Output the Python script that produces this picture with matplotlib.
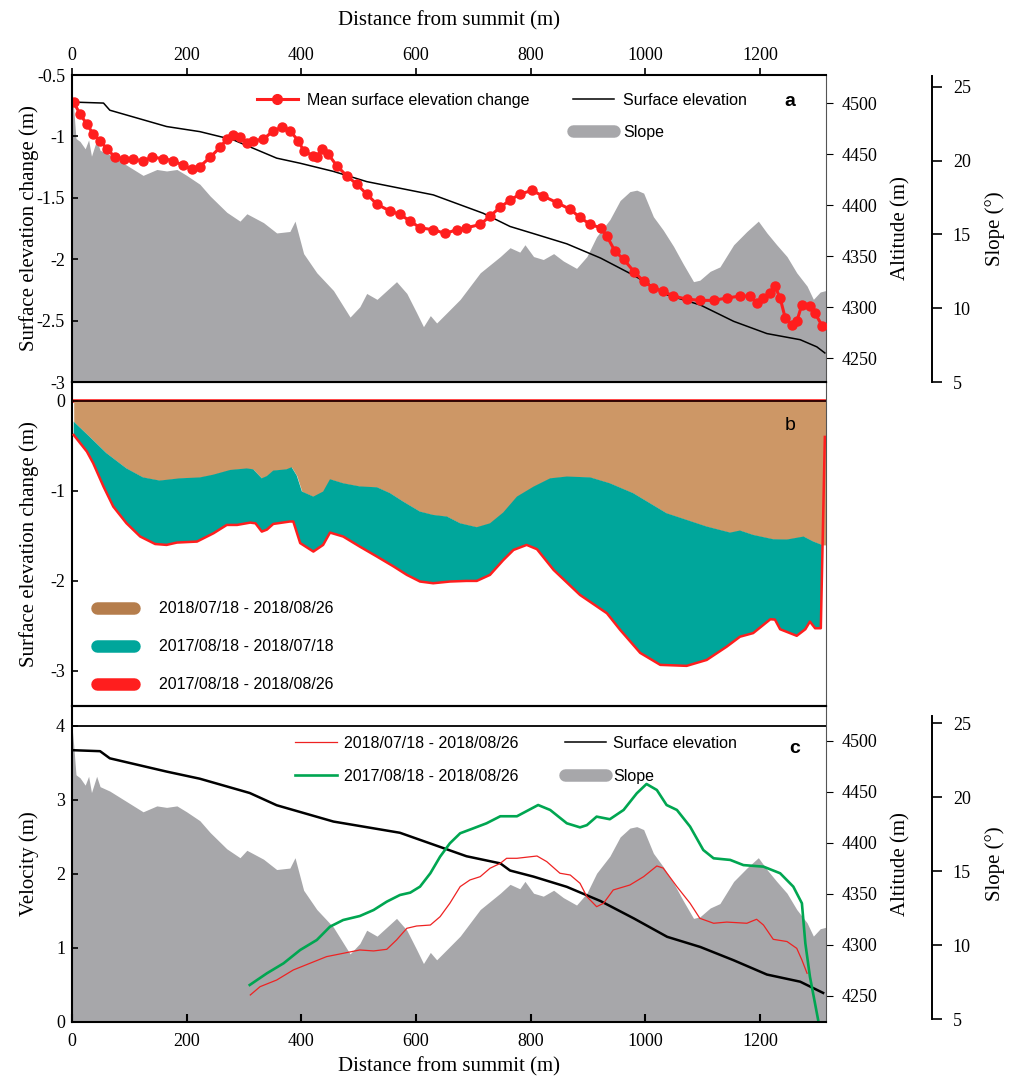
import matplotlib
matplotlib.use('Agg')
import matplotlib.pyplot as plt
from matplotlib.lines import Line2D

plt.rcParams['font.family'] = ['Liberation Serif', 'DejaVu Serif']
plt.rcParams['axes.unicode_minus'] = False
plt.rcParams['font.size'] = 13

# slope along the profile (deg)
slope_d = [0, 3, 7, 14, 23, 29, 34, 43, 49, 66, 95, 124, 148, 165, 183, 200, 223, 241, 270, 293,
           305, 334, 357, 380, 389, 404, 427, 456, 485, 502, 514, 532, 549, 566, 584, 601, 613, 625,
           636, 654, 677, 712, 747, 764, 781, 790, 805, 822, 840, 857, 880, 898, 915, 938, 956, 973,
           985, 997, 1014, 1031, 1049, 1066, 1084, 1095, 1113, 1130, 1154, 1177, 1197, 1212, 1229,
           1247, 1264, 1282, 1293, 1305, 1315]
slope_v = [24.8, 23.5, 21.5, 21.3, 20.8, 21.4, 20.3, 21.4, 20.7, 20.4, 19.7, 19.0, 19.4, 19.3, 19.4,
           19.0, 18.4, 17.6, 16.5, 15.9, 16.4, 15.8, 15.1, 15.2, 15.9, 13.7, 12.4, 11.2, 9.4, 10.1,
           11.0, 10.6, 11.2, 11.8, 11.0, 9.7, 8.75, 9.5, 9.0, 9.7, 10.6, 12.4, 13.5, 14.1, 13.8, 14.3,
           13.5, 13.3, 13.7, 13.2, 12.7, 13.5, 14.85, 16.0, 17.3, 17.9, 18.0, 17.8, 16.2, 15.3, 14.2,
           13.0, 11.8, 11.9, 12.5, 12.8, 14.3, 15.2, 15.9, 15.1, 14.3, 13.5, 12.4, 11.5, 10.6, 11.1,
           11.2]

# surface elevation profiles (m a.s.l.)
elev_a_d = [0, 55, 66, 165, 223, 281, 357, 398, 456, 514, 630, 717, 764, 805, 863, 922, 980, 1038,
            1096, 1154, 1212, 1270, 1299, 1313]
elev_a_v = [4501, 4500, 4493, 4477, 4472, 4464, 4446, 4441, 4433, 4423, 4410, 4392, 4379, 4372, 4362,
            4348, 4331, 4312, 4302, 4286, 4274, 4268, 4261, 4255]
elev_c_d = [0, 49, 66, 165, 223, 310, 357, 456, 572, 688, 747, 764, 805, 863, 922, 980, 1038, 1096,
            1154, 1212, 1270, 1310]
elev_c_v = [4491, 4490, 4483, 4470, 4463, 4449, 4437, 4421, 4410, 4387, 4380, 4373, 4367, 4357, 4343,
            4326, 4308, 4298, 4285, 4271, 4264, 4253]

# mean surface elevation change (m)
mean_d = [3, 14, 26, 37, 49, 61, 75, 90, 107, 124, 139, 159, 177, 194, 209, 223, 241, 258, 270, 281,
          293, 305, 316, 334, 351, 366, 380, 395, 404, 421, 427, 436, 447, 462, 479, 497, 514, 532,
          555, 572, 590, 607, 630, 651, 671, 688, 712, 729, 747, 764, 781, 802, 822, 846, 869, 886,
          904, 922, 933, 947, 962, 980, 997, 1014, 1031, 1049, 1072, 1095, 1119, 1142, 1165, 1183,
          1194, 1206, 1218, 1226, 1235, 1244, 1255, 1264, 1273, 1287, 1296, 1308]
mean_v = [-0.722, -0.818, -0.90, -0.98, -1.036, -1.10, -1.17, -1.186, -1.186, -1.20, -1.17, -1.18,
          -1.20, -1.235, -1.267, -1.245, -1.17, -1.09, -1.022, -0.99, -1.008, -1.05, -1.036, -1.022,
          -0.954, -0.926, -0.954, -1.036, -1.118, -1.159, -1.17, -1.10, -1.145, -1.24, -1.32, -1.39,
          -1.47, -1.553, -1.608, -1.635, -1.69, -1.744, -1.76, -1.79, -1.76, -1.744, -1.717, -1.65,
          -1.575, -1.52, -1.47, -1.44, -1.486, -1.54, -1.594, -1.66, -1.717, -1.744, -1.813, -1.935,
          -2.0, -2.10, -2.18, -2.235, -2.262, -2.30, -2.325, -2.335, -2.335, -2.316, -2.30, -2.30,
          -2.357, -2.316, -2.275, -2.22, -2.316, -2.48, -2.535, -2.507, -2.37, -2.38, -2.44, -2.54]

# elevation change per period (m)
summer_d = [3, 31, 60, 95, 124, 153, 188, 223, 246, 276, 305, 316, 331, 340, 351, 374, 383, 392, 401,
            421, 438, 450, 473, 502, 532, 555, 578, 607, 630, 654, 677, 706, 729, 752, 776, 805, 834,
            863, 904, 938, 979, 1008, 1037, 1072, 1107, 1148, 1165, 1188, 1223, 1247, 1276, 1293, 1308,
            1315]
summer_v = [-0.23, -0.40, -0.58, -0.75, -0.85, -0.885, -0.86, -0.85, -0.82, -0.767, -0.75, -0.76,
            -0.86, -0.835, -0.774, -0.76, -0.737, -0.83, -1.007, -1.063, -1.007, -0.87, -0.915, -0.95,
            -0.96, -1.026, -1.12, -1.23, -1.267, -1.285, -1.36, -1.403, -1.36, -1.24, -1.063, -0.952,
            -0.86, -0.84, -0.85, -0.915, -1.026, -1.137, -1.248, -1.322, -1.396, -1.463, -1.44, -1.489,
            -1.537, -1.54, -1.507, -1.563, -1.60, -1.60]
total_d = [3, 26, 37, 55, 72, 95, 119, 145, 165, 183, 218, 247, 270, 288, 311, 320, 331, 340, 351,
           380, 386, 398, 421, 438, 450, 473, 502, 532, 561, 584, 607, 630, 659, 688, 706, 729, 752,
           770, 793, 811, 840, 886, 933, 956, 991, 1026, 1072, 1107, 1142, 1165, 1188, 1218, 1226,
           1235, 1264, 1279, 1287, 1296, 1306, 1313]
total_v = [-0.378, -0.563, -0.692, -0.952, -1.174, -1.359, -1.507, -1.59, -1.60, -1.574, -1.563,
           -1.47, -1.378, -1.378, -1.352, -1.36, -1.452, -1.43, -1.367, -1.34, -1.34, -1.58, -1.674,
           -1.60, -1.463, -1.507, -1.619, -1.73, -1.84, -1.933, -2.007, -2.026, -2.007, -2.0, -2.0,
           -1.933, -1.77, -1.656, -1.60, -1.648, -1.878, -2.156, -2.36, -2.544, -2.80, -2.933,
           -2.944, -2.878, -2.73, -2.62, -2.58, -2.426, -2.43, -2.537, -2.61, -2.537, -2.452,
           -2.526, -2.526, -0.40]

# velocity (m)
vel_year_d = [310, 340, 369, 398, 427, 450, 473, 502, 526, 549, 572, 590, 607, 625, 642, 659, 677,
              700, 723, 747, 776, 813, 834, 863, 886, 898, 915, 938, 962, 985, 1002, 1020, 1037,
              1055, 1078, 1101, 1119, 1148, 1171, 1206, 1235, 1258, 1273, 1279, 1287, 1302]
vel_year_v = [0.50, 0.658, 0.793, 0.973, 1.108, 1.288, 1.378, 1.432, 1.513, 1.626, 1.716, 1.748,
              1.829, 2.01, 2.234, 2.414, 2.55, 2.617, 2.685, 2.78, 2.78, 2.932, 2.865, 2.685, 2.63,
              2.66, 2.775, 2.74, 2.865, 3.09, 3.216, 3.135, 2.932, 2.865, 2.64, 2.324, 2.212, 2.19,
              2.12, 2.099, 2.01, 1.829, 1.604, 1.063, 0.612, 0.0]
vel_summer_d = [311, 328, 357, 386, 415, 444, 473, 502, 526, 549, 566, 584, 601, 625, 642, 659, 677,
                694, 712, 729, 747, 758, 776, 811, 828, 851, 869, 886, 898, 915, 927, 944, 973, 997,
                1020, 1031, 1055, 1078, 1095, 1119, 1142, 1177, 1194, 1206, 1223, 1247, 1264, 1273,
                1282]
vel_summer_v = [0.365, 0.477, 0.567, 0.703, 0.793, 0.883, 0.928, 0.973, 0.96, 0.982, 1.108, 1.266,
                1.297, 1.31, 1.423, 1.604, 1.829, 1.919, 1.964, 2.077, 2.144, 2.212, 2.212, 2.243,
                2.167, 2.01, 1.986, 1.874, 1.694, 1.558, 1.604, 1.784, 1.851, 1.964, 2.108, 2.08,
                1.829, 1.604, 1.401, 1.334, 1.35, 1.334, 1.388, 1.31, 1.117, 1.087, 0.995, 0.838,
                0.658]

period_labels = ['2018/07/18 - 2018/08/26', '2017/08/18 - 2018/07/18', '2017/08/18 - 2018/08/26']
dist_ticks = [0, 200, 400, 600, 800, 1000, 1200]

GRAY = '#a7a7aa'
RED = '#ff1e1e'
BROWN = '#cd9766'
TEAL = '#00a69b'
GREEN = '#00a651'
sans = {'family': 'Liberation Sans', 'size': 11.5}
XMAX = 1315

fig = plt.figure(figsize=(10.11, 10.81), dpi=100)
L, W = 0.0712, 0.7458
ax_a = fig.add_axes([L, 0.6466, W, 0.2840])
ax_b = fig.add_axes([L, 0.3469, W, 0.2997])
ax_c = fig.add_axes([L, 0.0546, W, 0.2923])


def add_twins(ax, alt_lim, slope_lim, slope_top):
    alt = ax.twinx()
    slp = ax.twinx()
    slp.set_zorder(1)
    alt.set_zorder(2)
    ax.set_zorder(3)
    for a in (ax, alt, slp):
        a.patch.set_visible(False)
    alt.set_ylim(*alt_lim)
    alt.set_yticks([4250, 4300, 4350, 4400, 4450, 4500])
    alt.tick_params(axis='y', direction='out', length=5, width=0.8, pad=6)
    for s in ('top', 'bottom', 'left'):
        alt.spines[s].set_visible(False)
    alt.spines['right'].set_linewidth(0.8)
    alt.spines['right'].set_color('#555555')
    alt.set_ylabel('Altitude (m)', fontsize=15)
    alt.yaxis.set_label_coords(1.086, 0.5)

    slp.set_ylim(*slope_lim)
    slp.set_yticks([5, 10, 15, 20, 25])
    slp.spines['right'].set_position(('axes', 1.1406))
    slp.spines['right'].set_bounds(5, slope_top)
    slp.spines['right'].set_linewidth(1.4)
    for s in ('top', 'bottom', 'left'):
        slp.spines[s].set_visible(False)
    slp.tick_params(axis='y', direction='out', length=7, width=1.2, pad=8)
    slp.set_ylabel('Slope (°)', fontsize=15)
    slp.yaxis.set_label_coords(1.211, 0.5)
    return alt, slp


for ax in (ax_a, ax_b, ax_c):
    ax.set_xlim(0, XMAX)
    for s in ('left', 'top', 'bottom'):
        ax.spines[s].set_linewidth(1.5)
    ax.spines['right'].set_visible(False)
    ax.tick_params(axis='y', direction='in', length=4, width=1.2, pad=5)
    ax.yaxis.set_label_coords(-0.044, 0.5)

# panel a
alt_a, slp_a = add_twins(ax_a, (4226.5, 4527.5), (5, 25.8), 25.7)
slp_a.fill_between(slope_d, slope_v, 0, color=GRAY, lw=0)
alt_a.plot(elev_a_d, elev_a_v, color='black', lw=1.1)
ax_a.plot(mean_d, mean_v, color=RED, lw=2.2, marker='o', ms=6.5, mec=RED, mfc=RED)
ax_a.set_ylim(-3, -0.5)
ax_a.set_yticks([-3, -2.5, -2, -1.5, -1, -0.5])
ax_a.set_yticklabels(['-3', '-2.5', '-2', '-1.5', '-1', '-0.5'])
ax_a.xaxis.tick_top()
ax_a.xaxis.set_label_position('top')
ax_a.set_xticks(dist_ticks)
ax_a.tick_params(axis='x', direction='out', length=5, width=1.2, pad=3)
ax_a.set_xlabel('Distance from summit (m)', fontsize=15)
ax_a.xaxis.set_label_coords(0.5, 1.16)
ax_a.set_ylabel('Surface elevation change (m)', fontsize=15)
ax_a.text(0.952, 0.915, 'a', transform=ax_a.transAxes, ha='center', va='center',
          fontfamily='Liberation Sans', fontsize=14, fontweight='bold')
hand_a = [Line2D([], [], color=RED, lw=2.2, marker='o', ms=7),
          Line2D([], [], alpha=0),
          Line2D([], [], color='black', lw=1.1),
          Line2D([], [], color=GRAY, lw=9, solid_capstyle='round')]
ax_a.legend(hand_a, ['Mean surface elevation change', '', 'Surface elevation', 'Slope'],
            loc='upper left', bbox_to_anchor=(0.245, 0.942), ncol=2, frameon=False, prop=sans,
            handlelength=2.6, handletextpad=0.55, columnspacing=2.7, labelspacing=1.08,
            borderpad=0, borderaxespad=0)

# panel b
ax_b.set_ylim(-3.39, 0.21)
ax_b.axhline(0, color=RED, lw=2.6, zorder=1)
ax_b.fill_between(summer_d, summer_v, 0, color=BROWN, lw=0, zorder=2)
ax_b.fill(summer_d[:-1] + total_d[-2::-1], summer_v[:-1] + total_v[-2::-1], color=TEAL, lw=0,
          zorder=2)
ax_b.plot(total_d, total_v, color=RED, lw=1.8, zorder=3)
ax_b.axhline(0, color='#220000', lw=1.3, zorder=4)
ax_b.set_yticks([-3, -2, -1, 0])
ax_b.tick_params(axis='x', bottom=False, labelbottom=False)
ax_b.spines['right'].set_visible(True)
ax_b.spines['right'].set_linewidth(0.8)
ax_b.spines['right'].set_color('#555555')
ax_b.set_ylabel('Surface elevation change (m)', fontsize=15)
ax_b.text(0.952, 0.867, 'b', transform=ax_b.transAxes, ha='center', va='center',
          fontfamily='Liberation Sans', fontsize=14)
hand_b = [Line2D([], [], color='#b57d4c', lw=9, solid_capstyle='round'),
          Line2D([], [], color=TEAL, lw=9, solid_capstyle='round'),
          Line2D([], [], color=RED, lw=9, solid_capstyle='round')]
ax_b.legend(hand_b, [period_labels[0], period_labels[1], period_labels[2]],
            loc='upper left', bbox_to_anchor=(0.033, 0.323), frameon=False, prop=sans,
            handlelength=2.3, handletextpad=1.6, labelspacing=1.44, borderpad=0, borderaxespad=0)

# panel c
alt_c, slp_c = add_twins(ax_c, (4224.5, 4534.3), (4.8, 26.15), 25.5)
slp_c.fill_between(slope_d, slope_v, 0, color=GRAY, lw=0)
alt_c.plot(elev_c_d, elev_c_v, color='black', lw=1.8)
ax_c.plot(vel_summer_d, vel_summer_v, color='#ee2222', lw=0.9)
ax_c.plot(vel_year_d, vel_year_v, color=GREEN, lw=1.9)
ax_c.axhline(4, color='black', lw=1.3)
ax_c.set_ylim(0, 4.27)
ax_c.set_yticks([0, 1, 2, 3, 4])
ax_c.set_xticks(dist_ticks)
ax_c.tick_params(axis='x', direction='in', length=6, width=1.5, pad=8)
ax_c.set_xlabel('Distance from summit (m)', fontsize=15)
ax_c.xaxis.set_label_coords(0.5, -0.112)
ax_c.set_ylabel('Velocity (m)', fontsize=15)
ax_c.text(0.959, 0.864, 'c', transform=ax_c.transAxes, ha='center', va='center',
          fontfamily='Liberation Sans', fontsize=14, fontweight='bold')
hand_c = [Line2D([], [], color='#ee2222', lw=0.9),
          Line2D([], [], color=GREEN, lw=1.9),
          Line2D([], [], color='black', lw=1.1),
          Line2D([], [], color=GRAY, lw=9, solid_capstyle='round')]
ax_c.legend(hand_c, [period_labels[0], period_labels[2], 'Surface elevation', 'Slope'],
            loc='upper left', bbox_to_anchor=(0.296, 0.905), ncol=2, frameon=False, prop=sans,
            handlelength=2.6, handletextpad=0.45, columnspacing=2.9, labelspacing=1.1,
            borderpad=0, borderaxespad=0)

fig.savefig('out.png', dpi=100)
